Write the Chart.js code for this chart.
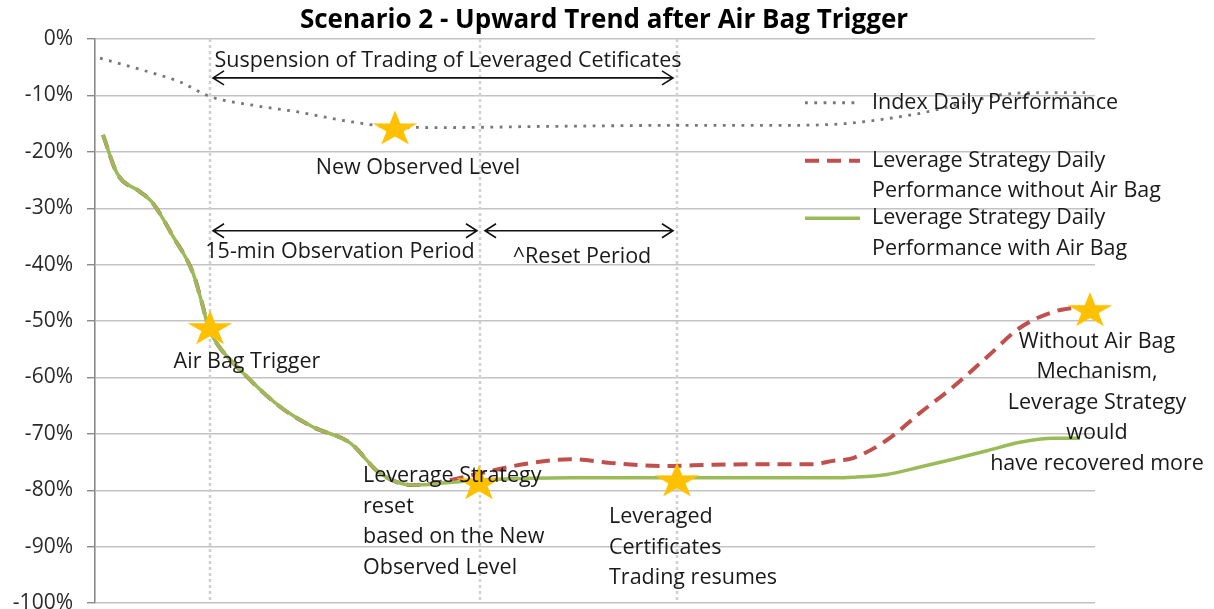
<!DOCTYPE html>
<html>
<head>
<meta charset="utf-8">
<script src="https://cdn.jsdelivr.net/npm/chart.js@4"></script>
<style>
  html, body { margin: 0; padding: 0; background: #fff; }
</style>
</head>
<body>
<canvas id="myChart" width="1214" height="609"></canvas>
<script>
'use strict';

// x is time in % of the session shown (the chart has no x labels)
let idxTime = [0.5, 5.5, 8.5, 11.5, 16, 20.5, 25, 30, 35, 45, 60, 70, 75, 78.5, 83, 87, 91, 95, 99];
let idxPerf = [-3.4, -5.9, -7.6, -10.2, -11.8, -13.0, -14.5, -15.6, -15.7, -15.5, -15.3, -15.3, -15.0, -14.3, -13.0, -11.3, -9.8, -9.5, -9.5];

let levTime = [0.8, 2.2, 4.5, 5.7, 7.8, 9.8, 10.8, 11.3, 12.2, 15.2, 18.5, 21.8, 25.5, 28.5, 31.8, 35.2, 38.5, 43.5, 47.5, 51.8, 56.8, 61.8, 66.8, 71.8, 73.8, 75.8, 79.2, 82.5, 85.8, 89.2, 92.5, 95.8, 98.5];
let withoutAirBag = [-17, -23.8, -27.1, -28.9, -35, -41.5, -47.5, -51, -54, -59.9, -65.2, -68.8, -71.6, -77, -79.1, -78.3, -77.0, -75.2, -74.5, -75.2, -75.7, -75.5, -75.4, -75.4, -74.8, -74.3, -71.1, -66.3, -61.7, -56.4, -51.2, -48.4, -47.5];
let withAirBag = [-17, -23.8, -27.1, -28.9, -35, -41.5, -47.5, -51, -54, -59.9, -65.2, -68.8, -71.6, -77, -79.1, -78.7, -78.2, -77.9, -77.8, -77.8, -77.8, -77.8, -77.8, -77.8, -77.8, -77.7, -77.2, -75.9, -74.5, -73.0, -71.5, -70.8, -70.8];

let starTime = [30, 11.5, 38.4, 58.2, 99.5];
let starLevel = [-16, -51.4, -78.9, -78.4, -48.2];

let phaseLines = [11.5, 38.5, 58.2];
let yTicks = [0, -10, -20, -30, -40, -50, -60, -70, -80, -90, -100];

let font = '"Open Sans", sans-serif';

function makeStar(w, h, color) {
  let c = document.createElement('canvas');
  c.width = w;
  c.height = h;
  let g = c.getContext('2d');
  let rx = 23.6, ry = 18.8;
  g.fillStyle = color;
  g.beginPath();
  for (let k = 0; k < 10; k++) {
    let a = (-90 + k * 36) * Math.PI / 180;
    let r = k % 2 === 0 ? 1 : 0.382;
    let px = w / 2 + rx * r * Math.cos(a);
    let py = h / 2 + ry * r * Math.sin(a);
    if (k === 0) g.moveTo(px, py); else g.lineTo(px, py);
  }
  g.closePath();
  g.fill();
  return c;
}

function pts(xs, ys) {
  return xs.map((t, i) => ({ x: t, y: ys[i] }));
}

function arrow(ctx, x1, x2, y) {
  ctx.beginPath();
  ctx.moveTo(x1, y); ctx.lineTo(x2, y);
  ctx.moveTo(x1 + 11, y - 7); ctx.lineTo(x1, y); ctx.lineTo(x1 + 11, y + 7);
  ctx.moveTo(x2 - 11, y - 7); ctx.lineTo(x2, y); ctx.lineTo(x2 - 11, y + 7);
  ctx.stroke();
}

function lines(ctx, arr, x, y, align) {
  ctx.textAlign = align;
  arr.forEach((s, i) => ctx.fillText(s, x, y + i * 30.5));
}

let notes = {
  id: 'notes',
  beforeDatasetsDraw(chart) {
    let { ctx, chartArea } = chart;
    let x = chart.scales.x;
    ctx.save();
    ctx.strokeStyle = '#d0d0d0';
    ctx.lineWidth = 2.5;
    ctx.setLineDash([3, 3]);
    phaseLines.forEach(t => {
      let p = Math.round(x.getPixelForValue(t));
      ctx.beginPath();
      ctx.moveTo(p, chartArea.top);
      ctx.lineTo(p, chartArea.bottom);
      ctx.stroke();
    });
    ctx.restore();
  },
  afterDatasetsDraw(chart) {
    let ctx = chart.ctx;
    let x = chart.scales.x, y = chart.scales.y;
    let X = v => x.getPixelForValue(v), Y = v => y.getPixelForValue(v);
    let p1 = X(phaseLines[0]), p2 = X(phaseLines[1]), p3 = X(phaseLines[2]);

    ctx.save();
    // arrows
    ctx.strokeStyle = '#111';
    ctx.lineWidth = 1.6;
    arrow(ctx, p1 + 3, p3 - 4, Y(-6.9));
    arrow(ctx, p1 + 3, p2 - 3, Y(-34));
    arrow(ctx, p2 + 5, p3 - 4, Y(-34));

    // text notes
    ctx.fillStyle = '#1a1a1a';
    ctx.font = '21.5px ' + font;
    ctx.textBaseline = 'middle';
    lines(ctx, ['Suspension of Trading of Leveraged Cetificates'], X(35.3), Y(-3.9), 'center');
    lines(ctx, ['New Observed Level'], X(32.3), Y(-22.9), 'center');
    lines(ctx, ['15-min Observation Period'], X(24.5), Y(-37.8), 'center');
    lines(ctx, ['^Reset Period'], X(48.7), Y(-38.7), 'center');
    lines(ctx, ['Air Bag Trigger'], X(15.2), Y(-57.3), 'center');
    lines(ctx, ['Leverage Strategy', 'reset', 'based on the New', 'Observed Level'], X(26.8), Y(-77.5), 'left');
    lines(ctx, ['Leveraged', 'Certificates', 'Trading resumes'], X(51.4), Y(-84.8), 'left');
    lines(ctx, ['Without Air Bag', 'Mechanism,', 'Leverage Strategy', 'would', 'have recovered more'], X(100.2), Y(-53.7), 'center');

    // legend
    let ds = chart.data.datasets;
    let rows = [
      { d: ds[3], y: Y(-11.3), text: ['Index Daily Performance'] },
      { d: ds[2], y: Y(-21.6), text: ['Leverage Strategy Daily', 'Performance without Air Bag'] },
      { d: ds[1], y: Y(-31.8), text: ['Leverage Strategy Daily', 'Performance with Air Bag'] }
    ];
    rows.forEach(r => {
      ctx.save();
      ctx.strokeStyle = r.d.borderColor;
      ctx.lineWidth = r.d.borderWidth;
      ctx.setLineDash(r.d.borderDash || []);
      ctx.beginPath();
      ctx.moveTo(X(71), r.y);
      ctx.lineTo(X(76.5), r.y);
      ctx.stroke();
      ctx.restore();
      lines(ctx, r.text, X(77.7), r.y, 'left');
    });

    // title
    ctx.fillStyle = '#000';
    ctx.font = 'bold 26px ' + font;
    ctx.textAlign = 'center';
    ctx.fillText('Scenario 2 - Upward Trend after Air Bag Trigger', 604, 21);
    ctx.restore();
  }
};

let ctx = document.getElementById('myChart').getContext('2d');

let myChart = new Chart(ctx, {
  type: 'line',
  data: {
    datasets: [
      {
        label: 'events',
        data: pts(starTime, starLevel),
        showLine: false,
        pointStyle: makeStar(50, 40, '#FFC000'),
        pointRadius: 20,
        clip: false,
        order: 0
      },
      {
        label: 'Leverage Strategy Daily Performance with Air Bag',
        data: pts(levTime, withAirBag),
        borderColor: '#9BBB59',
        borderWidth: 3.5,
        pointRadius: 0,
        cubicInterpolationMode: 'monotone',
        order: 1
      },
      {
        label: 'Leverage Strategy Daily Performance without Air Bag',
        data: pts(levTime, withoutAirBag),
        borderColor: '#C0504D',
        borderWidth: 4,
        borderDash: [14, 8],
        pointRadius: 0,
        cubicInterpolationMode: 'monotone',
        order: 2
      },
      {
        label: 'Index Daily Performance',
        data: pts(idxTime, idxPerf),
        borderColor: '#777',
        borderWidth: 2.8,
        borderDash: [2.8, 6.5],
        pointRadius: 0,
        cubicInterpolationMode: 'monotone',
        order: 3
      }
    ]
  },
  options: {
    responsive: false,
    animation: false,
    events: [],
    layout: { autoPadding: false, padding: { top: 39, right: 119, bottom: 6, left: 0 } },
    plugins: {
      legend: { display: false },
      tooltip: { enabled: false }
    },
    scales: {
      x: { type: 'linear', min: 0, max: 100, display: false },
      y: {
        min: -100,
        max: 0,
        afterBuildTicks: s => { s.ticks = yTicks.map(v => ({ value: v })); },
        afterFit: s => { s.width = 95; s.paddingTop = 0; s.paddingBottom = 0; },
        ticks: {
          callback: v => v + '%',
          padding: 14,
          color: '#2a2a2a',
          font: { family: font, size: 21 }
        },
        grid: { color: '#c3c3c3', lineWidth: 1.4, tickLength: 8, tickColor: '#8a8a8a' },
        border: { color: '#8a8a8a', width: 1.6 }
      }
    }
  },
  plugins: [notes]
});
</script>
</body>
</html>
